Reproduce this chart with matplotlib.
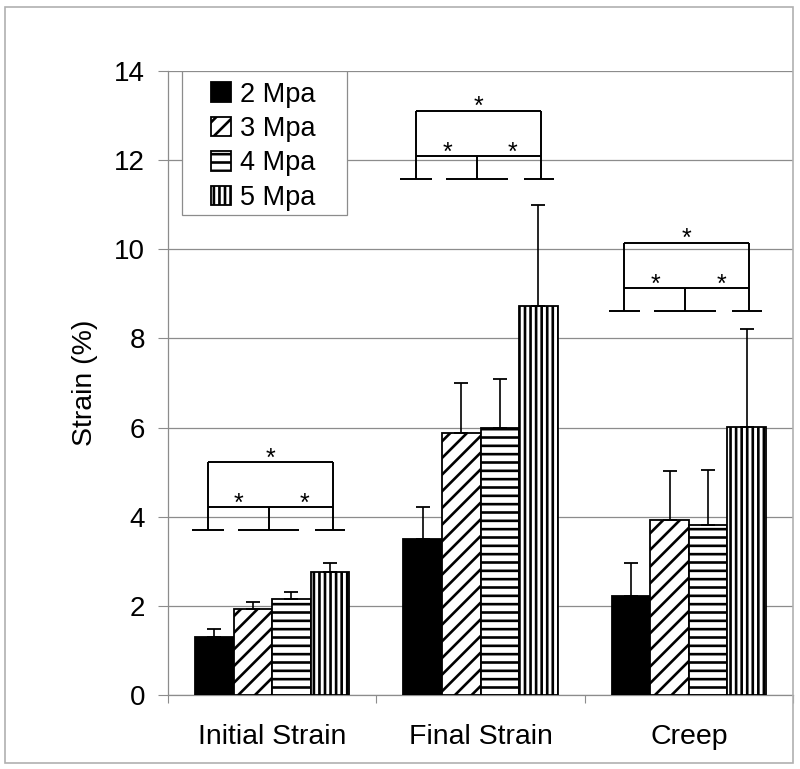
import numpy as np
import matplotlib
matplotlib.use("Agg")
import matplotlib.pyplot as plt
from matplotlib.patches import Rectangle, Patch

plt.rcParams['font.family'] = ['Liberation Sans', 'DejaVu Sans']
plt.rcParams['hatch.linewidth'] = 1.9

# values
categories = ['Initial Strain', 'Final Strain', 'Creep']
series = ['2 Mpa', '3 Mpa', '4 Mpa', '5 Mpa']
mean_2 = [1.31, 3.49, 2.22]
mean_3 = [1.94, 5.88, 3.93]
mean_4 = [2.15, 5.98, 3.81]
mean_5 = [2.77, 8.73, 6.01]
err_2 = [0.16, 0.73, 0.75]
err_3 = [0.14, 1.13, 1.09]
err_4 = [0.17, 1.12, 1.24]
err_5 = [0.20, 2.26, 2.21]
# significance brackets: base level per group
bracket_base = [3.70, 11.58, 8.62]

means = [mean_2, mean_3, mean_4, mean_5]
errs = [err_2, err_3, err_4, err_5]
hatches = ['', '//', '--', '|||']
faces = ['black', 'white', 'white', 'white']

grey = '#8c8c8c'

fig = plt.figure(figsize=(8, 7.69), dpi=100)
ax = fig.add_axes([168 / 800, 74 / 769, 625 / 800, 624 / 769])

x = np.arange(len(categories)) + 0.5
w = 0.185

for i in range(4):
    xi = x + (i - 1.5) * w
    ax.bar(xi, means[i], w, color=faces[i], edgecolor='black', hatch=hatches[i],
           linewidth=1.3, zorder=3)
    ax.errorbar(xi, means[i], yerr=[np.zeros(3), errs[i]], fmt='none',
                ecolor='black', elinewidth=1.2, capsize=4.8, capthick=1.3, zorder=4)

# brackets with stars
for g in range(3):
    c = x[g]
    base = bracket_base[g]
    low = base + 0.51
    top = base + 1.52
    kw = dict(color='black', lw=1.4, zorder=5, solid_capstyle='butt')
    # base segments
    for a, b in [(-0.385, -0.233), (-0.165, 0.13), (0.207, 0.351)]:
        ax.plot([c + a, c + b], [base, base], **kw)
    xl, xm, xr = c - 0.31, c - 0.017, c + 0.29
    ax.plot([xl, xl], [base, top], **kw)
    ax.plot([xr, xr], [base, top], **kw)
    ax.plot([xm, xm], [base, low], **kw)
    ax.plot([xl, xr], [low, low], **kw)
    ax.plot([xl, xr], [top, top], **kw)
    ax.text((xl + xr) / 2, top - 0.07, '*', ha='center', va='baseline', fontsize=18)
    ax.text(c - 0.16, low - 0.08, '*', ha='center', va='baseline', fontsize=18)
    ax.text(c + 0.155, low - 0.08, '*', ha='center', va='baseline', fontsize=18)

ax.set_xlim(0, 3)
ax.set_ylim(0, 14)
ax.set_yticks(np.arange(0, 15, 2))
ax.yaxis.grid(True, color=grey, lw=0.9, zorder=0)
ax.set_axisbelow(True)
ax.tick_params(axis='y', labelsize=20, length=7, color=grey, pad=9.5)

ax.set_xticks([0, 1, 2, 3])
ax.set_xticklabels([])
ax.set_xticks(x, minor=True)
ax.set_xticklabels(categories, minor=True)
ax.tick_params(axis='x', which='major', length=6, color=grey)
ax.tick_params(axis='x', which='minor', length=0, labelsize=20.5, pad=21)

for s in ['top', 'right']:
    ax.spines[s].set_visible(False)
for s in ['left', 'bottom']:
    ax.spines[s].set_color(grey)
    ax.spines[s].set_linewidth(0.9)

ax.set_ylabel('Strain (%)', fontsize=20.5)
ax.yaxis.set_label_coords(-0.112, 0.5)

# legend
ax.add_patch(Rectangle((14 / 625, 1 - 144 / 624), 165 / 625, 144 / 624,
                       transform=ax.transAxes, facecolor='white', edgecolor=grey,
                       lw=0.9, zorder=6))
handles = [Patch(facecolor=faces[i], edgecolor='black', hatch=hatches[i], lw=1.3)
           for i in range(4)]
leg = ax.legend(handles, series, loc='upper left', bbox_to_anchor=(43 / 625, 0.983),
                frameon=False, fontsize=19.5, borderpad=0, borderaxespad=0,
                handlelength=0.74, handleheight=0.74, handletextpad=0.33,
                labelspacing=0.31)
leg.set_zorder(7)

fig.patches.append(Rectangle((5 / 800, 6 / 769), 788 / 800, 756 / 769,
                             transform=fig.transFigure, facecolor='none',
                             edgecolor='#b0b0b0', lw=1.2))

fig.savefig('out.png', dpi=100)
